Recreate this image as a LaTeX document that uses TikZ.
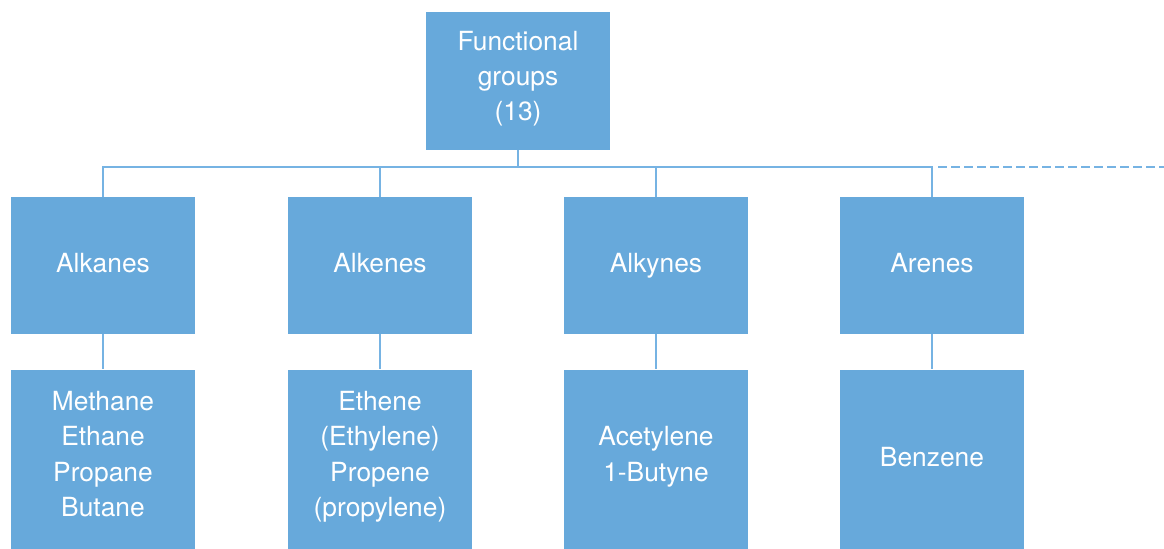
\documentclass[tikz,border=0pt]{standalone}
\usepackage{fontspec}
\setmainfont{TeX Gyre Heros}
\usetikzlibrary{positioning}
\definecolor{boxBlue}{HTML}{67A9DB}
\definecolor{lineBlue}{HTML}{76B3E3}
\tikzstyle{groupBox} = [shape=rectangle, fill=boxBlue, text=white, align=center,
	inner sep=0pt, font=\fontsize{15}{20}\selectfont,
	execute at begin node=\strut, execute at end node=\strut]
\tikzstyle{TopBox} = [groupBox, minimum width=3.68cm, minimum height=2.76cm]
\tikzstyle{ClassBox} = [groupBox, minimum width=3.68cm, minimum height=2.74cm]
\tikzstyle{ExampleBox} = [groupBox, minimum width=3.68cm, minimum height=3.58cm]
\tikzstyle{treeLine} = [draw=lineBlue, line width=1.1pt]

\begin{document}
\begin{tikzpicture}
  \useasboundingbox (0,0) rectangle (23.28,-10.96);
  \node (FG) at (10.36,-1.62) [TopBox] {Functional\\groups\\(13)};

  \node (ALKA) at (2.06,-5.31) [ClassBox] {Alkanes};
  \node (ALKE) at (7.6,-5.31) [ClassBox] {Alkenes};
  \node (ALKY) at (13.12,-5.31) [ClassBox] {Alkynes};
  \node (AREN) at (18.64,-5.31) [ClassBox] {Arenes};

  \node (EXA) [ExampleBox, below=0.7cm of ALKA] {Methane\\Ethane\\Propane\\Butane};
  \node (EXE) [ExampleBox, below=0.7cm of ALKE] {Ethene\\(Ethylene)\\Propene\\(propylene)};
  \node (EXY) [ExampleBox, below=0.7cm of ALKY] {Acetylene\\1-Butyne};
  \node (EXR) [ExampleBox, below=0.7cm of AREN] {Benzene};

  \coordinate (bus) at (10.36,-3.34);
  \coordinate (busEnd) at (23.28,-3.34);

  \draw [treeLine] (FG.south) -- (bus);
  \draw [treeLine] (ALKA.north) |- (bus) -| (AREN.north);
  \draw [treeLine] (ALKE.north) |- (bus);
  \draw [treeLine] (ALKY.north) |- (bus);
  \draw [treeLine, dash pattern=on 0.17cm off 0.09cm] (AREN.north |- bus) ++(0.12,0) -- (busEnd);

  \draw [treeLine] (ALKA) -- (EXA);
  \draw [treeLine] (ALKE) -- (EXE);
  \draw [treeLine] (ALKY) -- (EXY);
  \draw [treeLine] (AREN) -- (EXR);
\end{tikzpicture}
\end{document}
